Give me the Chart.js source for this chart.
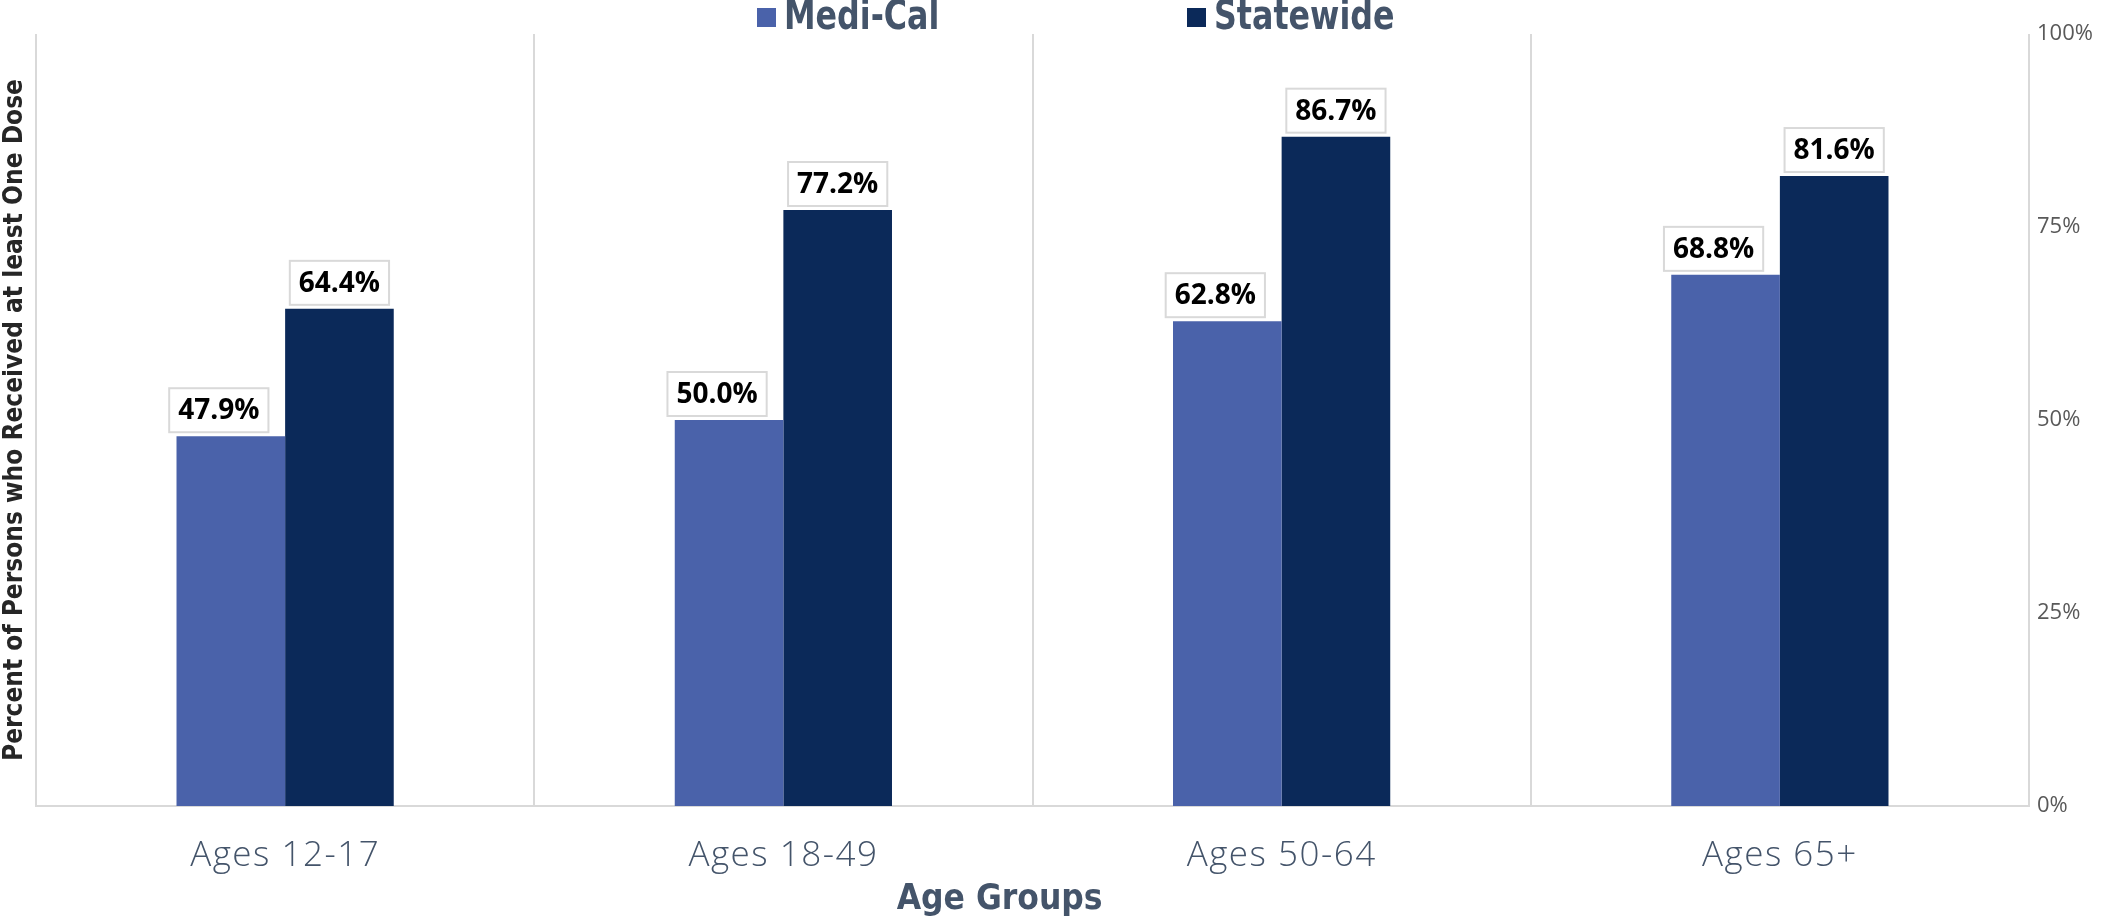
<!DOCTYPE html>
<html>
<head>
<meta charset="utf-8">
<script src="https://cdn.jsdelivr.net/npm/chart.js@4.4.1/dist/chart.umd.min.js"></script>
<style>
html,body{margin:0;padding:0;background:#fff;}
#wrap{width:2107px;height:923px;position:relative;}
</style>
</head>
<body>
<div id="wrap"><canvas id="c"></canvas></div>
<script>
// ---- data ----
const categories = ['Ages 12-17', 'Ages 18-49', 'Ages 50-64', 'Ages 65+'];
const seriesNames = ['Medi-Cal', 'Statewide'];
const mediCalValues = [47.9, 50.0, 62.8, 68.8];
const statewideValues = [64.4, 77.2, 86.7, 81.6];
const yTickValues = [0, 25, 50, 75, 100];
const xTitle = 'Age Groups';
const yTitle = 'Percent of Persons who Received at least One Dose';

// ---- styles ----
const colors = ['#4A62AA', '#0B2959'];
const SLATE = '#44546A';
const GRID = '#D9D9D9';
const NARROW = "'Liberation Sans Narrow', 'DejaVu Sans Condensed', 'Roboto Condensed', sans-serif";

const legendPlugin = {
  id: 'topLegend',
  afterDraw(chart) {
    const ctx = chart.ctx;
    if ('letterSpacing' in ctx) ctx.letterSpacing = '0px';
    const items = [
      {box: 757, text: 784},
      {box: 1187, text: 1214}
    ];
    const sx = 0.86;
    ctx.save();
    ctx.font = "bold 41px " + NARROW;
    ctx.textBaseline = 'middle';
    ctx.textAlign = 'left';
    chart.data.datasets.forEach((ds, i) => {
      const it = items[i];
      ctx.fillStyle = ds.backgroundColor;
      ctx.fillRect(it.box, 8, 19, 19);
      ctx.save();
      ctx.translate(it.text, 18);
      ctx.scale(sx, 1);
      ctx.fillStyle = SLATE;
      ctx.fillText(ds.label, 0, 0);
      ctx.restore();
    });
    ctx.restore();
  }
};

const labelPlugin = {
  id: 'boxLabels',
  afterDatasetsDraw(chart) {
    const ctx = chart.ctx;
    ctx.save();
    ctx.font = "bold 28px 'Open Sans', sans-serif";
    ctx.textAlign = 'center';
    ctx.textBaseline = 'middle';
    chart.data.datasets.forEach((ds, i) => {
      const meta = chart.getDatasetMeta(i);
      meta.data.forEach((el, j) => {
        const txt = ds.data[j].toFixed(1) + '%';
        const cx = el.x + (i === 0 ? -12 : 0);
        const w = ctx.measureText(txt).width + 18;
        const h = 44;
        const bottom = el.y - 4;
        ctx.fillStyle = '#FFFFFF';
        ctx.fillRect(cx - w / 2, bottom - h, w, h);
        ctx.strokeStyle = GRID;
        ctx.lineWidth = 2;
        ctx.strokeRect(cx - w / 2, bottom - h, w, h);
        ctx.fillStyle = '#000000';
        ctx.fillText(txt, cx, bottom - h / 2 + 1);
      });
    });
    ctx.restore();
  }
};

// letter spacing for the category tick labels (drawn on layer z=1, after datasets)
const spacingPlugin = {
  id: 'tickSpacing',
  afterDatasetsDraw(chart) {
    if ('letterSpacing' in chart.ctx) chart.ctx.letterSpacing = '1.5px';
  }
};

new Chart(document.getElementById('c'), {
  type: 'bar',
  data: {
    labels: categories,
    datasets: [
      {label: seriesNames[0], data: mediCalValues, backgroundColor: colors[0], yAxisID: 'y'},
      {label: seriesNames[1], data: statewideValues, backgroundColor: colors[1], yAxisID: 'y'}
    ]
  },
  options: {
    responsive: true,
    maintainAspectRatio: false,
    devicePixelRatio: 1,
    animation: false,
    layout: {padding: {top: 34, left: 0, right: 0, bottom: 0}},
    datasets: {bar: {categoryPercentage: 0.436, barPercentage: 1.0}},
    plugins: {legend: {display: false}, tooltip: {enabled: false}},
    scales: {
      x: {
        grid: {display: true, offset: true, color: GRID, lineWidth: 2, drawTicks: false},
        border: {display: true, color: GRID, width: 2},
        ticks: {z: 1, font: {family: "'Open Sans'", size: 35, weight: '300'}, color: SLATE, padding: 29},
        title: {display: true, text: xTitle + '\u00A0\u00A0\u00A0\u00A0\u00A0\u00A0', color: SLATE,
                font: {family: NARROW, size: 35, weight: 'bold'}, padding: {top: 0, bottom: 2}},
        afterFit(s) { s.height = 117; }
      },
      y: {
        position: 'right',
        min: 0, max: 100,
        afterBuildTicks(s) { s.ticks = yTickValues.map(v => ({value: v})); },
        ticks: {callback: v => v + '%', font: {family: "'Open Sans'", size: 22}, color: '#595959', padding: 8},
        grid: {display: false, drawTicks: false},
        border: {display: false},
        afterFit(s) { s.width = 78; }
      },
      yL: {
        position: 'left',
        type: 'linear',
        ticks: {display: false},
        grid: {display: false, drawTicks: false},
        border: {display: false},
        title: {display: true, text: yTitle, color: '#262626',
                font: {family: NARROW, size: 26, weight: 'bold'}, padding: {top: 0, bottom: 0}},
        afterFit(s) { s.width = 36; }
      }
    }
  },
  plugins: [legendPlugin, labelPlugin, spacingPlugin]
});
</script>
</body>
</html>
